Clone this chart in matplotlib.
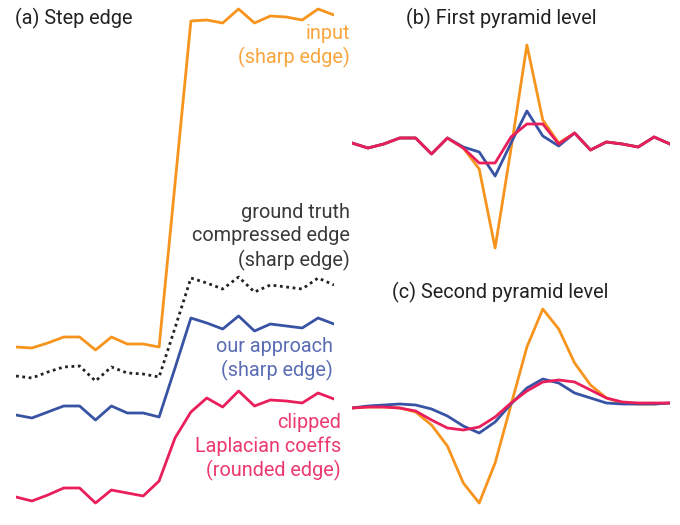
import matplotlib
matplotlib.use('Agg')
import matplotlib.pyplot as plt
import numpy as np

# (a) step edge, 21 samples
a_input = [178, 177, 182, 188, 188, 175, 188, 181, 181, 178, 341,
           504, 505, 502, 516, 502, 509, 508, 505, 516, 510]
a_truth = [149, 147, 153, 158, 159, 144, 158, 152, 151, 148, 197,
           247, 242, 236, 248, 233, 240, 238, 236, 247, 240]
a_ours = [110, 107, 113, 119, 119, 105, 119, 112, 112, 108, 157,
          207, 202, 196, 209, 194, 201, 199, 197, 207, 201]
a_clip = [28, 24, 30, 37, 37, 22, 35, 32, 29, 44, 87,
          113, 127, 118, 134, 119, 125, 124, 122, 132, 126]

# (b) first pyramid level
b_input = [0, -5, -1, 5, 5, -11, 5, -5, -26, -105, -6, 98, 23, 0,
           10, -7, 1, -1, -4, 6, -1]
b_ours = [0, -5, -1, 5, 5, -11, 5, -4, -9, -33, 0, 32, 7, -3,
          10, -7, 1, -1, -4, 6, -1]
b_clip = [0, -5, -1, 5, 5, -11, 5, -5, -20, -20, 6, 19, 19, -1,
          10, -7, 1, -1, -4, 6, -1]

# (c) second pyramid level
c_input = [-4, -3, -3, -4, -8, -21, -42, -79, -99, -59, -1, 57, 95, 75,
           41, 19, 6, 1, 0, 0, 1]
c_ours = [-4, -2, -1, 0, -1, -5, -12, -22, -29, -18, 0, 16, 25, 21,
          11, 6, 1, 0, 0, 0, 1]
c_clip = [-4, -3, -3, -4, -7, -16, -24, -26, -23, -13, 1, 13, 22, 24,
          22, 14, 6, 2, 1, 1, 1]

ORANGE = '#f7941d'
BLUE = '#3953a4'
RED = '#e91e5a'
DARK = '#222222'
plt.rcParams['font.family'] = ['Roboto', 'DejaVu Sans']

W, H = 680, 525
fig = plt.figure(figsize=(6.8, 5.25), dpi=100)
x = np.arange(21)
lw = 2.0

def make_ax(left, top, bottom, ylim):
    ax = fig.add_axes([left / W, (H - bottom) / H, 318 / W, (bottom - top) / H])
    ax.set_xlim(0, 20); ax.set_ylim(*ylim)
    ax.axis('off')
    return ax

# panel a
axa = make_ax(16, 0, 525, (0, 525))
axa.plot(x, a_input, color=ORANGE, lw=lw)
axa.plot(x, a_truth, color=DARK, lw=lw, ls=(0, (1, 1.3)))
axa.plot(x, a_ours, color=BLUE, lw=lw)
axa.plot(x, a_clip, color=RED, lw=lw)

# panel b
axb = make_ax(352, 30, 260, (-117, 113))
axb.plot(x, b_input, color=ORANGE, lw=lw)
axb.plot(x, b_ours, color=BLUE, lw=lw)
axb.plot(x, b_clip, color=RED, lw=lw)

# panel c
axc = make_ax(352, 300, 515, (-111, 104))
axc.plot(x, c_input, color=ORANGE, lw=lw)
axc.plot(x, c_ours, color=BLUE, lw=lw)
axc.plot(x, c_clip, color=RED, lw=lw)

fs = 14.3
def ftext(px, py, s, **kw):
    fig.text(px / W, 1 - py / H, s, fontsize=fs,
             va='center', linespacing=1.28, **kw)

ftext(15, 18, '(a) Step edge', color=DARK)
ftext(501, 18, '(b) First pyramid level', color=DARK, ha='center')
ftext(500, 292, '(c) Second pyramid level', color=DARK, ha='center')

ftext(350, 46, 'input\n(sharp edge)', color='#f8a53e', ha='right', multialignment='right')
ftext(350, 237, 'ground truth\ncompressed edge\n(sharp edge)', color='#3a3a3a', ha='right', multialignment='right')
ftext(333, 359, 'our approach\n(sharp edge)', color='#5b6db5', ha='right', multialignment='right')
ftext(341, 447, 'clipped\nLaplacian coeffs\n(rounded edge)', color='#ec3a6e', ha='right', multialignment='right')

plt.savefig('out.png', dpi=100)
